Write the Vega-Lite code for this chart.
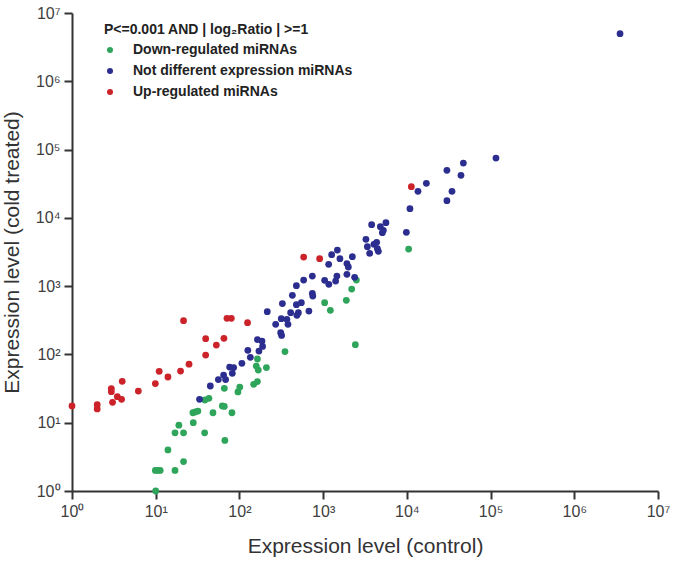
{
  "$schema": "https://vega.github.io/schema/vega-lite/v6.json",
  "width": 586,
  "height": 478,
  "autosize": {"type": "none"},
  "padding": {"left": 72, "top": 13, "right": 17, "bottom": 75},
  "background": "white",
  "config": {
    "view": {"stroke": null},
    "font": "Liberation Sans",
    "axis": {
      "grid": false,
      "domainColor": "#333333",
      "domainWidth": 2,
      "tickColor": "#333333",
      "tickWidth": 2,
      "tickSize": 8,
      "labelFont": "Liberation Sans",
      "labelFontSize": 16,
      "labelColor": "#404040",
      "labelPadding": 4,
      "titleFont": "Liberation Sans",
      "titleFontSize": 21,
      "titleFontWeight": "normal",
      "titleColor": "#333333"
    },
    "legend": {
      "titleFont": "Liberation Sans",
      "titleFontSize": 14,
      "titleFontWeight": "bold",
      "titleColor": "#222222",
      "titleLimit": 500,
      "titlePadding": 6,
      "labelFont": "Liberation Sans",
      "labelFontSize": 14,
      "labelFontWeight": "bold",
      "labelColor": "#222222",
      "labelLimit": 500,
      "symbolType": "circle",
      "symbolSize": 36,
      "symbolStrokeWidth": 0,
      "rowPadding": 7,
      "labelOffset": 16,
      "symbolOffset": -1
    }
  },
  "data": {
    "values": [
      {"control": 10, "cold": 1.0, "type": "Down-regulated miRNAs"},
      {"control": 9.9, "cold": 2.0, "type": "Down-regulated miRNAs"},
      {"control": 10.6, "cold": 2.0, "type": "Down-regulated miRNAs"},
      {"control": 11.3, "cold": 2.0, "type": "Down-regulated miRNAs"},
      {"control": 17, "cold": 2.0, "type": "Down-regulated miRNAs"},
      {"control": 21.5, "cold": 2.7, "type": "Down-regulated miRNAs"},
      {"control": 14.0, "cold": 4.0, "type": "Down-regulated miRNAs"},
      {"control": 17, "cold": 7.1, "type": "Down-regulated miRNAs"},
      {"control": 21.5, "cold": 7.1, "type": "Down-regulated miRNAs"},
      {"control": 18.9, "cold": 9.2, "type": "Down-regulated miRNAs"},
      {"control": 28.1, "cold": 10, "type": "Down-regulated miRNAs"},
      {"control": 27.8, "cold": 14, "type": "Down-regulated miRNAs"},
      {"control": 29.7, "cold": 14.4, "type": "Down-regulated miRNAs"},
      {"control": 31.9, "cold": 14.8, "type": "Down-regulated miRNAs"},
      {"control": 38.4, "cold": 7.1, "type": "Down-regulated miRNAs"},
      {"control": 38.7, "cold": 21.5, "type": "Down-regulated miRNAs"},
      {"control": 43.2, "cold": 22.8, "type": "Down-regulated miRNAs"},
      {"control": 48.3, "cold": 14, "type": "Down-regulated miRNAs"},
      {"control": 62.5, "cold": 17.6, "type": "Down-regulated miRNAs"},
      {"control": 66, "cold": 17.3, "type": "Down-regulated miRNAs"},
      {"control": 66, "cold": 31.9, "type": "Down-regulated miRNAs"},
      {"control": 67, "cold": 5.5, "type": "Down-regulated miRNAs"},
      {"control": 81.4, "cold": 14, "type": "Down-regulated miRNAs"},
      {"control": 96, "cold": 28.2, "type": "Down-regulated miRNAs"},
      {"control": 101, "cold": 33.3, "type": "Down-regulated miRNAs"},
      {"control": 148, "cold": 36.5, "type": "Down-regulated miRNAs"},
      {"control": 164, "cold": 40, "type": "Down-regulated miRNAs"},
      {"control": 159, "cold": 67.6, "type": "Down-regulated miRNAs"},
      {"control": 168, "cold": 59, "type": "Down-regulated miRNAs"},
      {"control": 164, "cold": 85.7, "type": "Down-regulated miRNAs"},
      {"control": 210, "cold": 64.1, "type": "Down-regulated miRNAs"},
      {"control": 350, "cold": 110, "type": "Down-regulated miRNAs"},
      {"control": 1042, "cold": 573, "type": "Down-regulated miRNAs"},
      {"control": 1219, "cold": 442, "type": "Down-regulated miRNAs"},
      {"control": 1892, "cold": 620, "type": "Down-regulated miRNAs"},
      {"control": 2193, "cold": 907, "type": "Down-regulated miRNAs"},
      {"control": 2494, "cold": 1228, "type": "Down-regulated miRNAs"},
      {"control": 2426, "cold": 139, "type": "Down-regulated miRNAs"},
      {"control": 10500, "cold": 3490, "type": "Down-regulated miRNAs"},
      {"control": 33.4, "cold": 22, "type": "Not different expression miRNAs"},
      {"control": 44.9, "cold": 34.5, "type": "Not different expression miRNAs"},
      {"control": 56, "cold": 42.8, "type": "Not different expression miRNAs"},
      {"control": 64.7, "cold": 49.9, "type": "Not different expression miRNAs"},
      {"control": 68.4, "cold": 42.8, "type": "Not different expression miRNAs"},
      {"control": 76.4, "cold": 65.4, "type": "Not different expression miRNAs"},
      {"control": 85.3, "cold": 64.1, "type": "Not different expression miRNAs"},
      {"control": 82.2, "cold": 52.9, "type": "Not different expression miRNAs"},
      {"control": 107, "cold": 74, "type": "Not different expression miRNAs"},
      {"control": 126, "cold": 115, "type": "Not different expression miRNAs"},
      {"control": 135, "cold": 90.7, "type": "Not different expression miRNAs"},
      {"control": 164, "cold": 165, "type": "Not different expression miRNAs"},
      {"control": 186, "cold": 157, "type": "Not different expression miRNAs"},
      {"control": 171, "cold": 112, "type": "Not different expression miRNAs"},
      {"control": 189, "cold": 131, "type": "Not different expression miRNAs"},
      {"control": 215, "cold": 423, "type": "Not different expression miRNAs"},
      {"control": 271, "cold": 276, "type": "Not different expression miRNAs"},
      {"control": 316, "cold": 334, "type": "Not different expression miRNAs"},
      {"control": 311, "cold": 208, "type": "Not different expression miRNAs"},
      {"control": 319, "cold": 190, "type": "Not different expression miRNAs"},
      {"control": 369, "cold": 327, "type": "Not different expression miRNAs"},
      {"control": 380, "cold": 276, "type": "Not different expression miRNAs"},
      {"control": 326, "cold": 555, "type": "Not different expression miRNAs"},
      {"control": 409, "cold": 409, "type": "Not different expression miRNAs"},
      {"control": 429, "cold": 733, "type": "Not different expression miRNAs"},
      {"control": 479, "cold": 1016, "type": "Not different expression miRNAs"},
      {"control": 486, "cold": 374, "type": "Not different expression miRNAs"},
      {"control": 506, "cold": 409, "type": "Not different expression miRNAs"},
      {"control": 479, "cold": 536, "type": "Not different expression miRNAs"},
      {"control": 549, "cold": 573, "type": "Not different expression miRNAs"},
      {"control": 585, "cold": 1228, "type": "Not different expression miRNAs"},
      {"control": 676, "cold": 432, "type": "Not different expression miRNAs"},
      {"control": 743, "cold": 1406, "type": "Not different expression miRNAs"},
      {"control": 743, "cold": 785, "type": "Not different expression miRNAs"},
      {"control": 752, "cold": 716, "type": "Not different expression miRNAs"},
      {"control": 1042, "cold": 1217, "type": "Not different expression miRNAs"},
      {"control": 1164, "cold": 2085, "type": "Not different expression miRNAs"},
      {"control": 1170, "cold": 1063, "type": "Not different expression miRNAs"},
      {"control": 1264, "cold": 2891, "type": "Not different expression miRNAs"},
      {"control": 1479, "cold": 3380, "type": "Not different expression miRNAs"},
      {"control": 1410, "cold": 1188, "type": "Not different expression miRNAs"},
      {"control": 1460, "cold": 1406, "type": "Not different expression miRNAs"},
      {"control": 1586, "cold": 2529, "type": "Not different expression miRNAs"},
      {"control": 1923, "cold": 2137, "type": "Not different expression miRNAs"},
      {"control": 2000, "cold": 1906, "type": "Not different expression miRNAs"},
      {"control": 1923, "cold": 1489, "type": "Not different expression miRNAs"},
      {"control": 2233, "cold": 2704, "type": "Not different expression miRNAs"},
      {"control": 2377, "cold": 1345, "type": "Not different expression miRNAs"},
      {"control": 3245, "cold": 4842, "type": "Not different expression miRNAs"},
      {"control": 3376, "cold": 3787, "type": "Not different expression miRNAs"},
      {"control": 3796, "cold": 7950, "type": "Not different expression miRNAs"},
      {"control": 3595, "cold": 3020, "type": "Not different expression miRNAs"},
      {"control": 4045, "cold": 4093, "type": "Not different expression miRNAs"},
      {"control": 4357, "cold": 4377, "type": "Not different expression miRNAs"},
      {"control": 4446, "cold": 3540, "type": "Not different expression miRNAs"},
      {"control": 4567, "cold": 3233, "type": "Not different expression miRNAs"},
      {"control": 4822, "cold": 7430, "type": "Not different expression miRNAs"},
      {"control": 5098, "cold": 6070, "type": "Not different expression miRNAs"},
      {"control": 5239, "cold": 6560, "type": "Not different expression miRNAs"},
      {"control": 5625, "cold": 8510, "type": "Not different expression miRNAs"},
      {"control": 9860, "cold": 6135, "type": "Not different expression miRNAs"},
      {"control": 10890, "cold": 13640, "type": "Not different expression miRNAs"},
      {"control": 13580, "cold": 24440, "type": "Not different expression miRNAs"},
      {"control": 17100, "cold": 32000, "type": "Not different expression miRNAs"},
      {"control": 30100, "cold": 49600, "type": "Not different expression miRNAs"},
      {"control": 47300, "cold": 63400, "type": "Not different expression miRNAs"},
      {"control": 44300, "cold": 41900, "type": "Not different expression miRNAs"},
      {"control": 34600, "cold": 24440, "type": "Not different expression miRNAs"},
      {"control": 30100, "cold": 17870, "type": "Not different expression miRNAs"},
      {"control": 116000, "cold": 75100, "type": "Not different expression miRNAs"},
      {"control": 3520000, "cold": 4980000, "type": "Not different expression miRNAs"},
      {"control": 1, "cold": 17.6, "type": "Up-regulated miRNAs"},
      {"control": 2, "cold": 18.4, "type": "Up-regulated miRNAs"},
      {"control": 2, "cold": 15.9, "type": "Up-regulated miRNAs"},
      {"control": 2.95, "cold": 31.6, "type": "Up-regulated miRNAs"},
      {"control": 2.95, "cold": 28.5, "type": "Up-regulated miRNAs"},
      {"control": 3.05, "cold": 19.9, "type": "Up-regulated miRNAs"},
      {"control": 3.48, "cold": 24.1, "type": "Up-regulated miRNAs"},
      {"control": 3.91, "cold": 22, "type": "Up-regulated miRNAs"},
      {"control": 3.98, "cold": 40.4, "type": "Up-regulated miRNAs"},
      {"control": 6.2, "cold": 29.1, "type": "Up-regulated miRNAs"},
      {"control": 9.9, "cold": 37.4, "type": "Up-regulated miRNAs"},
      {"control": 11.0, "cold": 56.6, "type": "Up-regulated miRNAs"},
      {"control": 14.0, "cold": 46.7, "type": "Up-regulated miRNAs"},
      {"control": 19.8, "cold": 57.1, "type": "Up-regulated miRNAs"},
      {"control": 21.5, "cold": 312, "type": "Up-regulated miRNAs"},
      {"control": 25, "cold": 72, "type": "Up-regulated miRNAs"},
      {"control": 39.5, "cold": 170, "type": "Up-regulated miRNAs"},
      {"control": 39.5, "cold": 98, "type": "Up-regulated miRNAs"},
      {"control": 53, "cold": 137, "type": "Up-regulated miRNAs"},
      {"control": 65.3, "cold": 172, "type": "Up-regulated miRNAs"},
      {"control": 71, "cold": 338, "type": "Up-regulated miRNAs"},
      {"control": 80, "cold": 338, "type": "Up-regulated miRNAs"},
      {"control": 125, "cold": 292, "type": "Up-regulated miRNAs"},
      {"control": 585, "cold": 2670, "type": "Up-regulated miRNAs"},
      {"control": 908, "cold": 2529, "type": "Up-regulated miRNAs"},
      {"control": 11320, "cold": 28640, "type": "Up-regulated miRNAs"}
    ]
  },
  "mark": {"type": "circle", "size": 46, "opacity": 1, "clip": false},
  "encoding": {
    "x": {
      "field": "control",
      "type": "quantitative",
      "scale": {"type": "log", "domain": [1, 10000000], "nice": false},
      "axis": {
        "title": "Expression level (control)",
        "values": [1, 10, 100, 1000, 10000, 100000, 1000000, 10000000],
        "labelExpr": "'10' + ['⁰','¹','²','³','⁴','⁵','⁶','⁷'][round(log(datum.value)/LN10)]",
        "titlePadding": 16,
        "labelFlush": false
      }
    },
    "y": {
      "field": "cold",
      "type": "quantitative",
      "scale": {"type": "log", "domain": [1, 10000000], "nice": false},
      "axis": {
        "title": "Expression level (cold treated)",
        "values": [1, 10, 100, 1000, 10000, 100000, 1000000, 10000000],
        "labelExpr": "'10' + ['⁰','¹','²','³','⁴','⁵','⁶','⁷'][round(log(datum.value)/LN10)]",
        "titlePadding": 13,
        "labelFlush": false
      }
    },
    "color": {
      "field": "type",
      "type": "nominal",
      "scale": {
        "domain": ["Down-regulated miRNAs", "Not different expression miRNAs", "Up-regulated miRNAs"],
        "range": ["#2ea55a", "#2c2e8f", "#cc2229"]
      },
      "legend": {
        "title": "P<=0.001 AND | log₂Ratio | >=1",
        "orient": "none",
        "legendX": 32,
        "legendY": 10
      }
    }
  }
}
